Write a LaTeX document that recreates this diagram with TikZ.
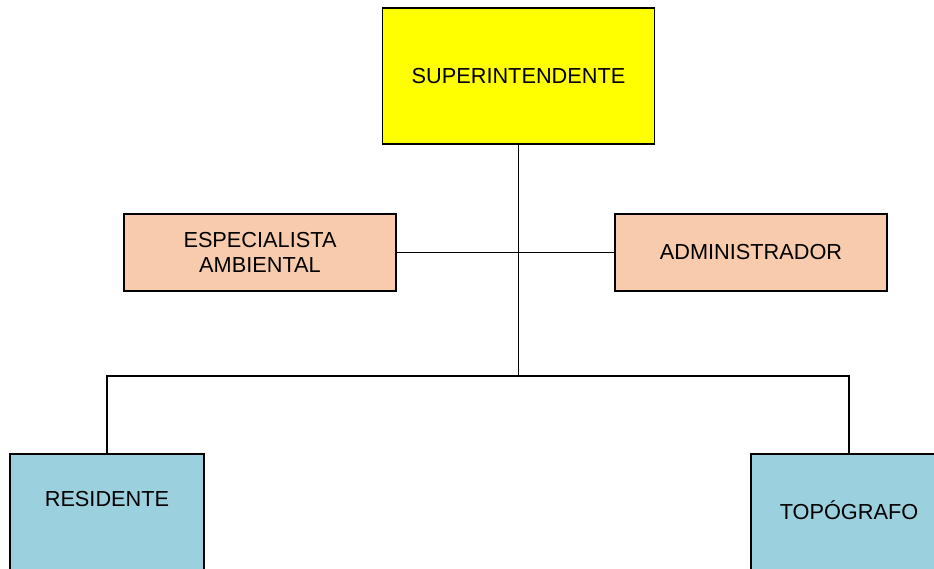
\documentclass[tikz,border=0pt]{standalone}
\usepackage{fontspec}
\setmainfont{Liberation Sans}
\usepackage{tikz}
\definecolor{supyellow}{HTML}{FFFF00}
\definecolor{staffpeach}{HTML}{F8CBAD}
\definecolor{fieldblue}{HTML}{9BD0DE}
\usetikzlibrary{positioning}
\tikzstyle{link} = [line width=1.4pt]

\begin{document}
\begin{tikzpicture}[x=0.75pt,y=-0.75pt]
                    \tikzstyle{every node}=[font=\fontsize{16.3}{18.8}\selectfont]
                    \tikzstyle{chief} = [rectangle, draw=black, line width=1.4pt, fill=supyellow, inner sep=0pt, minimum width=204pt, minimum height=102pt]
                    \tikzstyle{staff} = [rectangle, draw=black, line width=1.4pt, fill=staffpeach, inner sep=0pt, minimum width=204pt, minimum height=58pt, align=center]
                    \tikzstyle{field} = [rectangle, draw=black, line width=1.4pt, fill=fieldblue, inner sep=0pt, anchor=north, text depth=90pt]
                    \useasboundingbox (0,0) rectangle (934,568);

                    \node[chief](sup) at (518.5,76) {SUPERINTENDENTE};
                    \node[staff](esp) at (260,252.5) {ESPECIALISTA\\AMBIENTAL};
                    \node[staff](adm) at (751,252.5) {ADMINISTRADOR};
                    \node[field, minimum width=145.5pt, text height=39.75pt](res) at (107,453) {RESIDENTE};
                    \node[field, minimum width=147pt, text height=49.5pt](top) at (849,453) {TOPÓGRAFO};

                    \coordinate (bus) at (sup.south |- 0,376);
                    \draw[link] (sup.south) -- (bus);
                    \draw[link] (esp.east) -- (adm.west);
                    \draw[link] (bus) -| (res.north);
                    \draw[link] (bus) -| (top.north);
            \end{tikzpicture}
\end{document}
